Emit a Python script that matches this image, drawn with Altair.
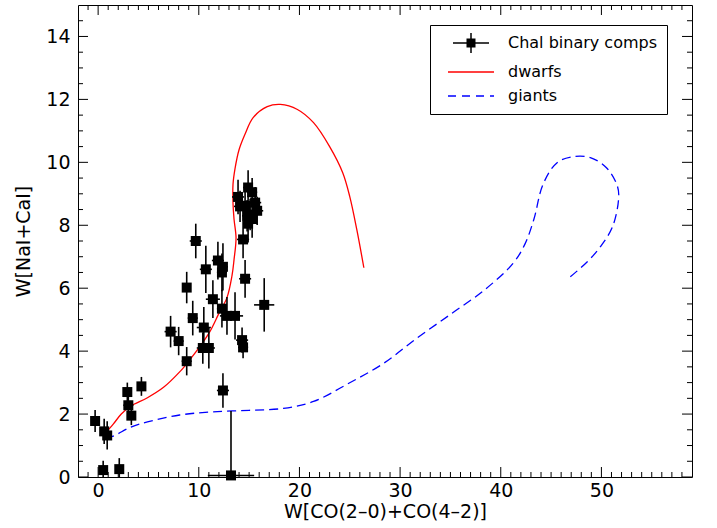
import altair as alt
import pandas as pd

# ---------------- data ----------------
comp_x = [-0.3, 0.6, 0.9, 0.5, 2.1, 2.9, 4.3, 3.0, 3.3, 13.2, 12.4, 8.8, 7.2, 8.0,
          9.4, 10.5, 10.4, 11.0, 12.8, 13.6, 14.3, 14.4, 16.5, 11.4, 12.3, 8.8, 10.7,
          9.7, 11.9, 12.4, 12.3, 14.4, 14.6,
          13.9, 14.9, 15.3, 14.1, 14.6, 15.6, 15.8, 15.1, 15.3, 14.9, 14.8]
comp_y = [1.78, 1.45, 1.32, 0.22, 0.25, 2.70, 2.88, 2.28, 1.95, 0.05, 2.75, 3.68, 4.62, 4.32,
          5.05, 4.75, 4.10, 4.10, 5.12, 5.12, 4.35, 4.12, 5.47, 5.65, 5.35, 6.02, 6.60,
          7.50, 6.88, 6.68, 6.50, 7.55, 6.30,
          8.90, 9.20, 9.05, 8.60, 8.62, 8.72, 8.46, 8.34, 8.20, 8.05, 8.30]
comp_xerr = [0.4, 0.4, 0.4, 0.4, 0.4, 0.4, 0.4, 0.5, 0.4, 2.3, 0.6, 0.5, 0.6, 0.5,
             0.5, 0.7, 0.6, 0.6, 0.7, 0.8, 0.6, 0.5, 1.0, 0.7, 0.5, 0.4, 0.6,
             0.6, 0.6, 0.5, 0.5, 0.6, 0.6,
             0.6, 0.5, 0.5, 0.6, 0.5, 0.6, 0.6, 0.6, 0.5, 0.5, 0.5]
comp_yerr = [0.35, 0.40, 0.45, 0.30, 0.35, 0.30, 0.30, 0.40, 0.30, 2.05, 0.55, 0.45, 0.50, 0.45,
             0.55, 0.65, 0.50, 0.65, 0.60, 0.75, 0.40, 0.35, 0.85, 0.60, 0.60, 0.50, 0.75,
             0.55, 0.60, 0.75, 0.60, 0.60, 0.60,
             0.55, 0.55, 0.45, 0.50, 0.55, 0.50, 0.45, 0.50, 0.60, 0.60, 0.50]

dwarf_x = [0.6, 1.5, 2.3, 3.2, 4.9, 6.5, 8.1, 9.1, 10.1, 11.1, 12.0, 12.8, 13.3, 13.5,
           13.7, 13.5, 13.4, 13.4, 13.6, 14.0, 14.6, 15.4, 16.8, 18.1, 19.8, 21.4, 23.0,
           24.3, 25.0, 25.7, 26.4]
dwarf_y = [1.35, 1.68, 2.00, 2.25, 2.52, 2.85, 3.34, 3.72, 4.14, 4.62, 5.20, 5.70, 6.40, 6.90,
           7.60, 8.20, 8.70, 9.30, 9.80, 10.40, 10.90, 11.42, 11.77, 11.84, 11.68, 11.26, 10.50,
           9.67, 8.91, 7.86, 6.65]

giant_x = [0.7, 1.5, 3.2, 4.9, 8.1, 11.4, 15.0, 18.4, 21.4, 24.8, 28.3, 31.7, 35.1, 38.4,
           41.2, 42.4, 43.3, 44.2, 45.6, 47.2, 48.9, 50.5, 51.6, 51.7, 51.1, 49.9, 48.6, 46.9]
giant_y = [1.25, 1.30, 1.58, 1.75, 1.97, 2.07, 2.12, 2.18, 2.40, 2.96, 3.60, 4.42, 5.19, 5.95,
           6.78, 7.40, 8.20, 9.30, 9.99, 10.18, 10.15, 9.83, 9.23, 8.81, 7.95, 7.32, 6.84, 6.36]

series_names = ["Chal binary comps", "dwarfs", "giants"]
series_colors = ["black", "red", "blue"]

x_major = [0, 10, 20, 30, 40, 50]
x_minor = [v for v in range(-1, 59) if v % 10 != 0]
y_major = [0, 2, 4, 6, 8, 10, 12, 14]
y_minor = [v / 2 for v in range(1, 30) if v % 4 != 0]

x_title = "W[CO(2–0)+CO(4–2)]"
y_title = "W[NaI+CaI]"

# ---------------- layout / style ----------------
W, H = 614, 472
FONT = "DejaVu Sans"
MAJ, MIN = 10, 5

xs = alt.Scale(domain=[-2, 59], nice=False, zero=False)
ys = alt.Scale(domain=[0, 15], nice=False, zero=False)

axis_common = dict(ticks=False, domain=False, grid=False, labelFont=FONT, titleFont=FONT,
                   labelFontSize=19, titleFontSize=19, labelColor="black",
                   titleColor="black", titleFontWeight="normal")
XAXIS = alt.Axis(values=x_major, labelPadding=4, titlePadding=2, **axis_common)
YAXIS = alt.Axis(values=y_major, labelPadding=8, titlePadding=12, **axis_common)

comps = pd.DataFrame({"x": comp_x, "y": comp_y, "xe": comp_xerr, "ye": comp_yerr})
dwarfs = pd.DataFrame({"x": dwarf_x, "y": dwarf_y, "i": list(range(len(dwarf_x)))})
giants = pd.DataFrame({"x": giant_x, "y": giant_y, "i": list(range(len(giant_x)))})


def X(field):
    return alt.X(field, scale=xs, axis=XAXIS, title=x_title)


def Y(field):
    return alt.Y(field, scale=ys, axis=YAXIS, title=y_title)


# tick marks (inside, on all four sides)
def xticks(vals, length):
    d = pd.DataFrame({"v": vals})
    b = alt.Chart(d).mark_rule(color="black", strokeWidth=1).encode(
        x=X("v:Q"), y=alt.value(H), y2=alt.value(H - length))
    t = alt.Chart(d).mark_rule(color="black", strokeWidth=1).encode(
        x=X("v:Q"), y=alt.value(0), y2=alt.value(length))
    return [b, t]


def yticks(vals, length):
    d = pd.DataFrame({"v": vals})
    l = alt.Chart(d).mark_rule(color="black", strokeWidth=1).encode(
        y=Y("v:Q"), x=alt.value(0), x2=alt.value(length))
    r = alt.Chart(d).mark_rule(color="black", strokeWidth=1).encode(
        y=Y("v:Q"), x=alt.value(W), x2=alt.value(W - length))
    return [l, r]


ticks = xticks(x_major, MAJ) + xticks(x_minor, MIN) + yticks(y_major, MAJ) + yticks(y_minor, MIN)

dwarf_line = alt.Chart(dwarfs).mark_line(color="red", strokeWidth=1.3, clip=True,
                                         interpolate="catmull-rom").encode(
    x=X("x:Q"), y=Y("y:Q"), order="i:Q")
giant_line = alt.Chart(giants).mark_line(color="blue", strokeWidth=1.3, strokeDash=[9, 5],
                                         clip=True, interpolate="catmull-rom").encode(
    x=X("x:Q"), y=Y("y:Q"), order="i:Q")

xerr = alt.Chart(comps).transform_calculate(
    x0="datum.x - datum.xe", x1="datum.x + datum.xe"
).mark_rule(color="black", strokeWidth=1.6, clip=True).encode(
    x=X("x0:Q"), x2="x1:Q", y=Y("y:Q"))
yerr = alt.Chart(comps).transform_calculate(
    y0="max(datum.y - datum.ye, 0)", y1="datum.y + datum.ye"
).mark_rule(color="black", strokeWidth=1.6, clip=True).encode(
    y=Y("y0:Q"), y2="y1:Q", x=X("x:Q"))

squares = alt.Chart(comps).mark_square(size=100, color="black", opacity=1).encode(
    x=X("x:Q"), y=Y("y:Q"))

# legend (symbols: errorbar point, solid red line, dashed blue line)
sym_comp = "M-3.6,0H3.6M0,-2V2M-0.75,-0.75H0.75V0.75H-0.75Z"
sym_dwarf = "M-4.6,0H4.6"
sym_giant = "M-4.6,0H-3.0M-1.8,0H-0.2M1.0,0H2.6M3.8,0H4.6"

leg = alt.Legend(title=None, orient="none", legendX=352, legendY=20, padding=10,
                 symbolSize=100, symbolOffset=23, labelOffset=29, labelFont=FONT,
                 labelFontSize=16, labelColor="black", rowPadding=8,
                 strokeColor="black", fillColor="white", symbolStrokeWidth=1.5,
                 symbolOpacity=1, cornerRadius=0)
legend_layer = alt.Chart(pd.DataFrame({"series": series_names})).mark_point(
    filled=True, opacity=0, size=100
).encode(
    color=alt.Color("series:N", scale=alt.Scale(domain=series_names, range=series_colors),
                    legend=leg),
    stroke=alt.Stroke("series:N", scale=alt.Scale(domain=series_names, range=series_colors),
                      legend=leg),
    shape=alt.Shape("series:N",
                    scale=alt.Scale(domain=series_names, range=[sym_comp, sym_dwarf, sym_giant]),
                    legend=leg),
)

chart = alt.layer(
    *ticks, dwarf_line, giant_line, xerr, yerr, squares, legend_layer
).properties(
    width=W, height=H,
    padding={"left": 78, "top": 5, "right": 25, "bottom": 51},
    autosize=alt.AutoSizeParams(type="none"),
).configure(font=FONT).configure_view(stroke="black", strokeWidth=1)

chart.save("out.html", embed_options={"renderer": "svg", "actions": False})
